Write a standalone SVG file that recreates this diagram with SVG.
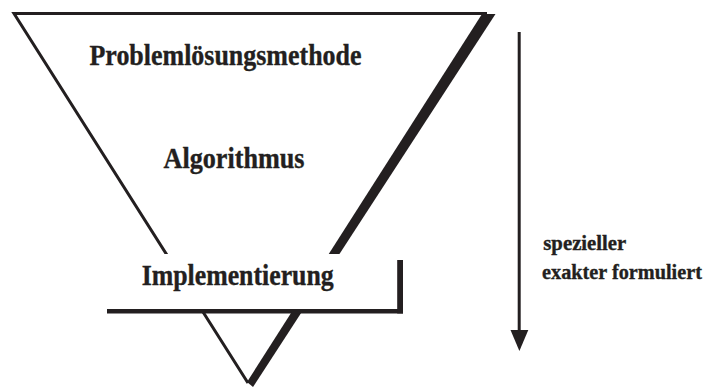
<svg xmlns="http://www.w3.org/2000/svg" width="710" height="388" viewBox="0 0 710 388">
  <defs>
    <style>
      .ink { fill: #231f20; }
      .edge { fill: none; stroke: #231f20; stroke-width: 3; stroke-linejoin: miter; }
      .label { font-family: "Liberation Serif", "Times New Roman", serif; font-weight: bold; fill: #231f20; stroke: #231f20; stroke-width: 0.35; }
      .big { font-size: 28.5px; }
      .small { font-size: 20.5px; }
    </style>
  </defs>
  <rect width="710" height="388" fill="#ffffff"/>

  <!-- inverted triangle: thin top and left edges, heavy right edge -->
  <g id="funnel">
    <path class="edge" d="M 487 13.5 H 14 L 248 383"/>
    <polygon class="ink" points="482,14 495.5,14 253,387 247,382"/>
  </g>

  <g id="level-method">
    <text class="label big" x="89.5" y="65" textLength="272" lengthAdjust="spacingAndGlyphs">Problemlösungsmethode</text>
  </g>

  <g id="level-algorithm">
    <text class="label big" x="163.5" y="168.3" textLength="141" lengthAdjust="spacingAndGlyphs">Algorithmus</text>
  </g>

  <!-- white box with drop-shadow lines on bottom and right -->
  <g id="level-implementation">
    <rect x="107" y="254" width="290" height="55.5" fill="#ffffff"/>
    <rect class="ink" x="107" y="309" width="296" height="4.5"/>
    <rect class="ink" x="397.2" y="260" width="5.8" height="53.5"/>
    <text class="label big" x="141.7" y="285" textLength="192" lengthAdjust="spacingAndGlyphs">Implementierung</text>
  </g>

  <g id="connectors">
    <line x1="519.2" y1="32" x2="519.2" y2="332" stroke="#231f20" stroke-width="3"/>
    <polygon class="ink" points="510.5,330 528.3,330 519.4,351"/>
  </g>

  <g id="direction-note">
    <text class="label small" x="543.3" y="250" textLength="83" lengthAdjust="spacingAndGlyphs">spezieller</text>
    <text class="label small" x="542" y="279" textLength="160" lengthAdjust="spacingAndGlyphs">exakter formuliert</text>
  </g>
</svg>
